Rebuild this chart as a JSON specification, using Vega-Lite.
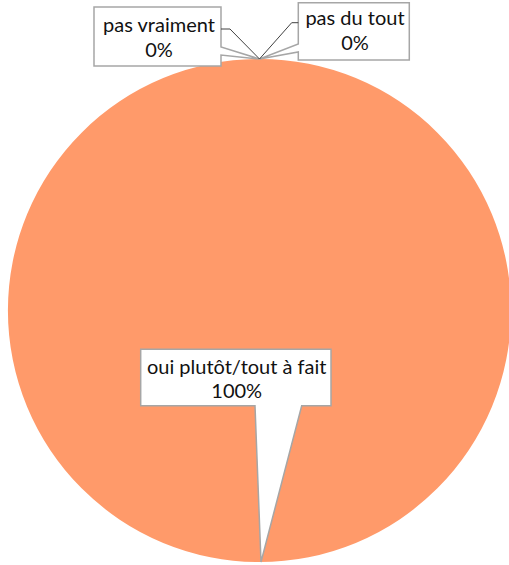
{
  "$schema": "https://vega.github.io/schema/vega-lite/v6.json",
  "width": 509,
  "height": 565,
  "autosize": "none",
  "padding": 0,
  "background": "white",
  "config": {"view": {"stroke": null}},
  "data": {
    "values": [
      {"category": "oui plutôt/tout à fait", "value": 1},
      {"category": "pas vraiment", "value": 0},
      {"category": "pas du tout", "value": 0}
    ]
  },
  "encoding": {
    "x": {"datum": 0, "type": "quantitative", "scale": {"domain": [-1.031809, 0.992048], "nice": false, "zero": false}, "axis": null},
    "y": {"datum": 0, "type": "quantitative", "scale": {"domain": [-1.011928, 1.234593], "nice": false, "zero": false}, "axis": null}
  },
  "layer": [
    {
      "mark": {"type": "arc", "outerRadius": 251.5, "stroke": null},
      "encoding": {
        "theta": {"field": "value", "type": "quantitative", "stack": true},
        "color": {"field": "category", "type": "nominal", "legend": null,
          "scale": {"domain": ["oui plutôt/tout à fait", "pas vraiment", "pas du tout"], "range": ["#FF9A6A", "#A5A5A5", "#FFC000"]}},
        "order": {"field": "category", "sort": "descending"}
      }
    },
    {
      "transform": [{"filter": "datum.category === 'pas vraiment'"}],
      "mark": {"type": "point", "filled": true, "fill": "white", "stroke": "#A6A6A6", "strokeWidth": 1.5, "opacity": 1, "size": 4,
        "shape": "M-165.5,-52H-38.5V-12L0,0L-38.5,-4V7H-165.5Z"},
      "encoding": {"y": {"datum": 1, "type": "quantitative"}}
    },
    {
      "transform": [{"filter": "datum.category === 'pas du tout'"}],
      "mark": {"type": "point", "filled": true, "fill": "white", "stroke": "#A6A6A6", "strokeWidth": 1.5, "opacity": 1, "size": 4,
        "shape": "M38.8,-56.3H149.8V1H38.8V-7L0,0L38.8,-15Z"},
      "encoding": {"y": {"datum": 1, "type": "quantitative"}}
    },
    {
      "transform": [{"filter": "datum.category === 'oui plutôt/tout à fait'"}],
      "mark": {"type": "point", "filled": true, "fill": "white", "stroke": "#A6A6A6", "strokeWidth": 1.5, "opacity": 1, "size": 4,
        "shape": "M-118.8,-212.7H71.5V-156.3H42.2L1.5,0L-4.5,-156.3H-118.8Z"},
      "encoding": {"y": {"datum": -1, "type": "quantitative"}}
    },
    {
      "transform": [{"filter": "datum.category === 'pas vraiment'"}],
      "mark": {"type": "point", "filled": false, "stroke": "#404040", "strokeWidth": 1, "opacity": 1, "size": 4,
        "shape": "M-38.5,-30H-29.5L0,0"},
      "encoding": {"y": {"datum": 1, "type": "quantitative"}}
    },
    {
      "transform": [{"filter": "datum.category === 'pas du tout'"}],
      "mark": {"type": "point", "filled": false, "stroke": "#404040", "strokeWidth": 1, "opacity": 1, "size": 4,
        "shape": "M38.8,-36.3H32.2L0,0"},
      "encoding": {"y": {"datum": 1, "type": "quantitative"}}
    },
    {
      "transform": [{"filter": "datum.category === 'pas vraiment'"}],
      "mark": {"type": "text", "font": "Lato", "fontSize": 20, "color": "#111111", "align": "center", "baseline": "alphabetic", "dx": -100.5, "dy": -27.3},
      "encoding": {"y": {"datum": 1, "type": "quantitative"}, "text": {"field": "category"}}
    },
    {
      "transform": [{"filter": "datum.category === 'pas vraiment'"}],
      "mark": {"type": "text", "font": "Lato", "fontSize": 20, "color": "#111111", "align": "center", "baseline": "alphabetic", "dx": -100.5, "dy": -2.3},
      "encoding": {"y": {"datum": 1, "type": "quantitative"}, "text": {"field": "value", "type": "quantitative", "format": ".0%"}}
    },
    {
      "transform": [{"filter": "datum.category === 'pas du tout'"}],
      "mark": {"type": "text", "font": "Lato", "fontSize": 20, "color": "#111111", "align": "center", "baseline": "alphabetic", "dx": 95.5, "dy": -34},
      "encoding": {"y": {"datum": 1, "type": "quantitative"}, "text": {"field": "category"}}
    },
    {
      "transform": [{"filter": "datum.category === 'pas du tout'"}],
      "mark": {"type": "text", "font": "Lato", "fontSize": 20, "color": "#111111", "align": "center", "baseline": "alphabetic", "dx": 95.5, "dy": -9},
      "encoding": {"y": {"datum": 1, "type": "quantitative"}, "text": {"field": "value", "type": "quantitative", "format": ".0%"}}
    },
    {
      "transform": [{"filter": "datum.category === 'oui plutôt/tout à fait'"}],
      "mark": {"type": "text", "font": "Lato", "fontSize": 20, "color": "#111111", "align": "center", "baseline": "alphabetic", "dx": -22.8, "dy": -188},
      "encoding": {"y": {"datum": -1, "type": "quantitative"}, "text": {"field": "category"}}
    },
    {
      "transform": [{"filter": "datum.category === 'oui plutôt/tout à fait'"}],
      "mark": {"type": "text", "font": "Lato", "fontSize": 20, "color": "#111111", "align": "center", "baseline": "alphabetic", "dx": -22.8, "dy": -164},
      "encoding": {"y": {"datum": -1, "type": "quantitative"}, "text": {"field": "value", "type": "quantitative", "format": ".0%"}}
    }
  ]
}
